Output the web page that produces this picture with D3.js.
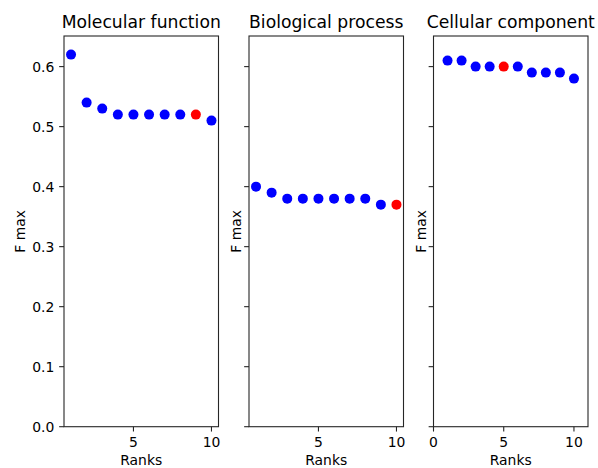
<!DOCTYPE html>
<html>
<head>
<meta charset="utf-8">
<script src="https://cdn.jsdelivr.net/npm/d3@7"></script>
<style>
  body { margin: 0; background: #fff; }
  svg { display: block; font-family: "DejaVu Sans", sans-serif; }
</style>
</head>
<body>
<script>
// panel titles
var titles = ["Molecular function", "Biological process", "Cellular component"];
var ranks = [1, 2, 3, 4, 5, 6, 7, 8, 9, 10];
// F max values per rank
var molecular = [0.62, 0.54, 0.53, 0.52, 0.52, 0.52, 0.52, 0.52, 0.52, 0.51];
var biological = [0.40, 0.39, 0.38, 0.38, 0.38, 0.38, 0.38, 0.38, 0.37, 0.37];
var cellular = [0.61, 0.61, 0.60, 0.60, 0.60, 0.60, 0.59, 0.59, 0.59, 0.58];
// rank that is highlighted in red
var highlight = [9, 10, 5];
var xTicks = [[5, 10], [5, 10], [0, 5, 10]];
var xDomains = [[0.55, 10.45], [0.55, 10.45], [0, 11]];
var yTicks = [0, 0.1, 0.2, 0.3, 0.4, 0.5, 0.6];

(function () {
    var width = 598, height = 468;
    var plotTop = 36, plotBottom = 426.7;
    var panelLeft = [64, 249, 433.5], panelW = 154.5;
    var tickLen = 4.86, pad = 4.86;
    var axisColor = "#262626";

    var svg = d3.select("body").append("svg")
        .attr("width", width)
        .attr("height", height);

    var y = d3.scaleLinear().domain([0, 0.651]).range([plotBottom, plotTop]);
    var series = [molecular, biological, cellular];

    series.forEach(function (vals, i) {
        var x0 = panelLeft[i];
        var x = d3.scaleLinear().domain(xDomains[i]).range([x0, x0 + panelW]);
        var g = svg.append("g");

        // y ticks
        g.selectAll(".yt")
            .data(yTicks)
            .join("line")
            .attr("x1", x0 - tickLen).attr("x2", x0)
            .attr("y1", d => y(d)).attr("y2", d => y(d))
            .attr("stroke", axisColor).attr("stroke-width", 1.1);
        if (i === 0) {
            g.selectAll(".yl")
                .data(yTicks)
                .join("text")
                .attr("x", x0 - tickLen - pad)
                .attr("y", d => y(d))
                .attr("dy", "0.36em")
                .attr("text-anchor", "end")
                .attr("font-size", 13.9)
                .text(d => d.toFixed(1));
        }

        // x ticks
        g.selectAll(".xt")
            .data(xTicks[i])
            .join("line")
            .attr("x1", d => x(d)).attr("x2", d => x(d))
            .attr("y1", plotBottom).attr("y2", plotBottom + tickLen)
            .attr("stroke", axisColor).attr("stroke-width", 1.1);
        g.selectAll(".xl")
            .data(xTicks[i])
            .join("text")
            .attr("x", d => x(d))
            .attr("y", plotBottom + tickLen + pad)
            .attr("dy", "0.76em")
            .attr("text-anchor", "middle")
            .attr("font-size", 13.9)
            .text(d => d);

        // points
        g.selectAll("circle")
            .data(vals)
            .join("circle")
            .attr("cx", (d, j) => x(ranks[j]))
            .attr("cy", d => y(d))
            .attr("r", 5)
            .attr("fill", (d, j) => ranks[j] === highlight[i] ? "#ff0000" : "#0000ff");

        // frame
        g.append("rect")
            .attr("x", x0).attr("y", plotTop)
            .attr("width", panelW).attr("height", plotBottom - plotTop)
            .attr("fill", "none")
            .attr("stroke", axisColor).attr("stroke-width", 1.1);

        g.append("text")
            .attr("x", x0 + panelW / 2)
            .attr("y", plotTop - 8.3)
            .attr("text-anchor", "middle")
            .attr("font-size", 17.2)
            .text(titles[i]);

        g.append("text")
            .attr("x", x0 + panelW / 2)
            .attr("y", 465)
            .attr("text-anchor", "middle")
            .attr("font-size", 13.9)
            .text("Ranks");

        var lx = i === 0 ? 24.5 : x0 - 8;
        g.append("text")
            .attr("transform", "translate(" + lx + "," + (plotTop + plotBottom) / 2 + ") rotate(-90)")
            .attr("text-anchor", "middle")
            .attr("font-size", 13.9)
            .text("F max");
    });
})();
</script>
</body>
</html>
